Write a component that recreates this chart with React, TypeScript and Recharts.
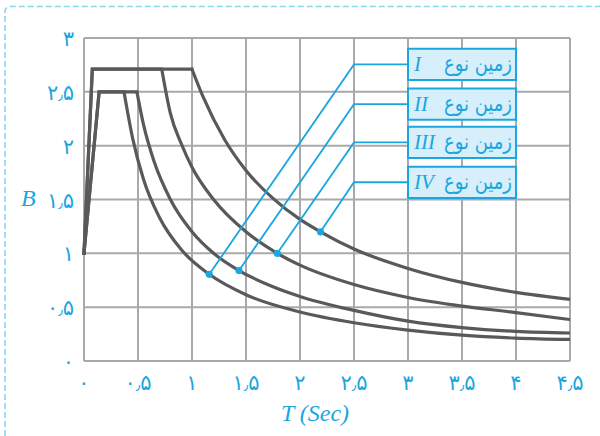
import React from 'react';
import { LineChart, Line, XAxis, YAxis, CartesianGrid, ReferenceArea, ReferenceDot, Label } from 'recharts';

// axis ticks (Persian digits, Arabic decimal separator)
const xTicks = [0, 0.5, 1, 1.5, 2, 2.5, 3, 3.5, 4, 4.5];
const xTickLabels = ['۰', '۰٫۵', '۱', '۱٫۵', '۲', '۲٫۵', '۳', '۳٫۵', '۴', '۴٫۵'];
const yTicks = [0, 0.5, 1, 1.5, 2, 2.5, 3];
const yTickLabels = ['۰', '۰٫۵', '۱', '۱٫۵', '۲', '۲٫۵', '۳'];

// soil types
const soilNames = ['I', 'II', 'III', 'IV'];

// rising part + plateau of each spectrum
const soilI_riseT = [0, 0.14, 0.37];
const soilI_riseB = [1, 2.5, 2.5];
const soilII_riseT = [0, 0.14, 0.49];
const soilII_riseB = [1, 2.5, 2.5];
const soilIII_riseT = [0, 0.077, 0.72];
const soilIII_riseB = [1, 2.71, 2.71];
const soilIV_riseT = [0, 0.077, 1.0];
const soilIV_riseB = [1, 2.71, 2.71];

// descending part of each spectrum
const soilI_T = [0.37, 0.45, 0.55, 0.7, 0.9, 1.16, 1.5, 2.0, 2.5, 3.0, 3.5, 4.0, 4.5];
const soilI_B = [2.5, 2.07, 1.69, 1.33, 1.035, 0.805, 0.615, 0.455, 0.355, 0.287, 0.24, 0.213, 0.2];
const soilII_T = [0.49, 0.55, 0.65, 0.8, 1.0, 1.2, 1.435, 1.75, 2.0, 2.5, 3.0, 3.5, 4.0, 4.5];
const soilII_B = [2.5, 2.2, 1.85, 1.5, 1.2, 1.0, 0.84, 0.69, 0.6, 0.47, 0.37, 0.31, 0.275, 0.26];
const soilIII_T = [0.72, 0.8, 0.9, 1.0, 1.2, 1.5, 1.79, 2.0, 2.5, 3.0, 3.5, 4.0, 4.5];
const soilIII_B = [2.71, 2.3, 2.02, 1.8, 1.5, 1.2, 1.0, 0.89, 0.71, 0.59, 0.51, 0.45, 0.385];
const soilIV_T = [1.0, 1.1, 1.3, 1.5, 1.75, 2.0, 2.19, 2.5, 3.0, 3.5, 4.0, 4.5];
const soilIV_B = [2.71, 2.46, 2.06, 1.77, 1.51, 1.315, 1.2, 1.04, 0.86, 0.73, 0.637, 0.573];

// callouts: point on the curve, elbow, legend box rows
const calloutT = [1.16, 1.435, 1.79, 2.19];
const calloutB = [0.805, 0.84, 1.0, 1.2];
const elbowT = 2.5;
const boxT = [3, 4];
const boxB = [2.755, 2.385, 2.03, 1.66];
const boxHalf = 0.145;

const BLUE = '#1ba6df';
const CURVE = '#58595b';
const GRID = '#a9a9ad';
const PERSIAN_FONT = 'DejaVu Sans';
const LATIN_FONT = 'Liberation Serif';
const TICK_SIZE = 21;

const pts = (ts: number[], bs: number[]) => ts.map((T, i) => ({ T, B: bs[i] }));

const rises = [
  pts(soilI_riseT, soilI_riseB),
  pts(soilII_riseT, soilII_riseB),
  pts(soilIII_riseT, soilIII_riseB),
  pts(soilIV_riseT, soilIV_riseB),
];
const decays = [
  pts(soilI_T, soilI_B),
  pts(soilII_T, soilII_B),
  pts(soilIII_T, soilIII_B),
  pts(soilIV_T, soilIV_B),
];
const leaders = soilNames.map((_, i) => [
  { T: calloutT[i], B: calloutB[i] },
  { T: elbowT, B: boxB[i] },
  { T: boxT[0], B: boxB[i] },
]);

// tick with a smaller decimal separator
const PersianTick = (props: any) => {
  const { x, y, payload, labels, ticks, anchor, shift } = props;
  const label: string = labels[ticks.indexOf(payload.value)] ?? '';
  const parts = label.split('٫');
  return (
    <text x={x} y={y + shift} textAnchor={anchor} fill={BLUE} fontSize={TICK_SIZE} fontFamily={PERSIAN_FONT}>
      {parts[0]}
      {parts.length > 1 && <tspan fontSize={14}>٫</tspan>}
      {parts.length > 1 && parts[1]}
    </text>
  );
};

const boxLabel = (numeral: string) => (props: any) => {
  const { x, y, width, height } = props.viewBox;
  const cy = y + height / 2;
  return (
    <g>
      <text
        x={x + width - 4}
        y={cy + 7}
        textAnchor="end"
        fontFamily={PERSIAN_FONT}
        fontSize={22}
        textLength={68}
        lengthAdjust="spacingAndGlyphs"
        fill={BLUE}
      >
        زمین نوع
      </text>
      <text x={x + 6} y={cy + 7} textAnchor="start" fontFamily={LATIN_FONT} fontStyle="italic" fontSize={21} fill={BLUE}>
        {numeral}
      </text>
    </g>
  );
};

const xLabel = (props: any) => {
  const { x, y, width } = props.viewBox;
  return (
    <text x={x + width / 2 - 12} y={y + 60} textAnchor="middle" fontFamily={LATIN_FONT} fontStyle="italic" fontSize={24} fill={BLUE}>
      T (Sec)
    </text>
  );
};

const yLabel = (props: any) => {
  const { x } = props.viewBox;
  return (
    <text x={x - 3} y={206} textAnchor="start" fontFamily={LATIN_FONT} fontStyle="italic" fontSize={24} fill={BLUE}>
      B
    </text>
  );
};

export default function App() {
  return (
    <div style={{ position: 'absolute', left: 0, top: 0, width: 600, height: 436, background: '#fff' }}>
      <svg width={600} height={436} style={{ position: 'absolute', left: 0, top: 0 }}>
        <path d="M5 436 V12 Q5 6.5 10.5 6.5 H600" stroke="#8ad6f1" strokeWidth={1.6} strokeDasharray="6 3" fill="none" />
      </svg>
      <div style={{ position: 'absolute', left: 0, top: 0 }}>
        <LineChart width={600} height={436} margin={{ top: 38, right: 30, bottom: 45, left: 24 }}>
          <CartesianGrid stroke={GRID} strokeWidth={2} />
          <XAxis
            type="number"
            dataKey="T"
            domain={[0, 4.5]}
            ticks={xTicks}
            interval={0}
            height={30}
            axisLine={false}
            tickLine={false}
            tickMargin={8}
            tick={<PersianTick labels={xTickLabels} ticks={xTicks} anchor="middle" shift={Math.round(TICK_SIZE * 0.71)} />}
            label={<Label content={xLabel} />}
          />
          <YAxis
            type="number"
            dataKey="B"
            domain={[0, 3]}
            ticks={yTicks}
            interval={0}
            width={60}
            axisLine={false}
            tickLine={false}
            tickMargin={4}
            tick={<PersianTick labels={yTickLabels} ticks={yTicks} anchor="end" shift={Math.round(TICK_SIZE * 0.36)} />}
            label={<Label content={yLabel} />}
          />
          {rises.map((d, i) => (
            <Line
              key={`rise-${i}`}
              data={d}
              dataKey="B"
              type="linear"
              stroke={CURVE}
              strokeWidth={3.2}
              strokeLinecap="square"
              dot={false}
              activeDot={false}
              isAnimationActive={false}
            />
          ))}
          {decays.map((d, i) => (
            <Line
              key={`decay-${i}`}
              data={d}
              dataKey="B"
              type="monotone"
              stroke={CURVE}
              strokeWidth={3.2}
              dot={false}
              activeDot={false}
              isAnimationActive={false}
            />
          ))}
          {leaders.map((d, i) => (
            <Line
              key={`leader-${i}`}
              data={d}
              dataKey="B"
              type="linear"
              stroke={BLUE}
              strokeWidth={1.8}
              dot={false}
              activeDot={false}
              isAnimationActive={false}
            />
          ))}
          {soilNames.map((_, i) => (
            <ReferenceDot key={`dot-${i}`} x={calloutT[i]} y={calloutB[i]} r={3.6} fill={BLUE} stroke="none" />
          ))}
          {soilNames.map((name, i) => (
            <ReferenceArea
              key={`box-${i}`}
              x1={boxT[0]}
              x2={boxT[1]}
              y1={boxB[i] - boxHalf}
              y2={boxB[i] + boxHalf}
              fill="#d6effb"
              fillOpacity={1}
              stroke={BLUE}
              strokeWidth={2}
              label={<Label content={boxLabel(name)} />}
            />
          ))}
        </LineChart>
      </div>
    </div>
  );
}
